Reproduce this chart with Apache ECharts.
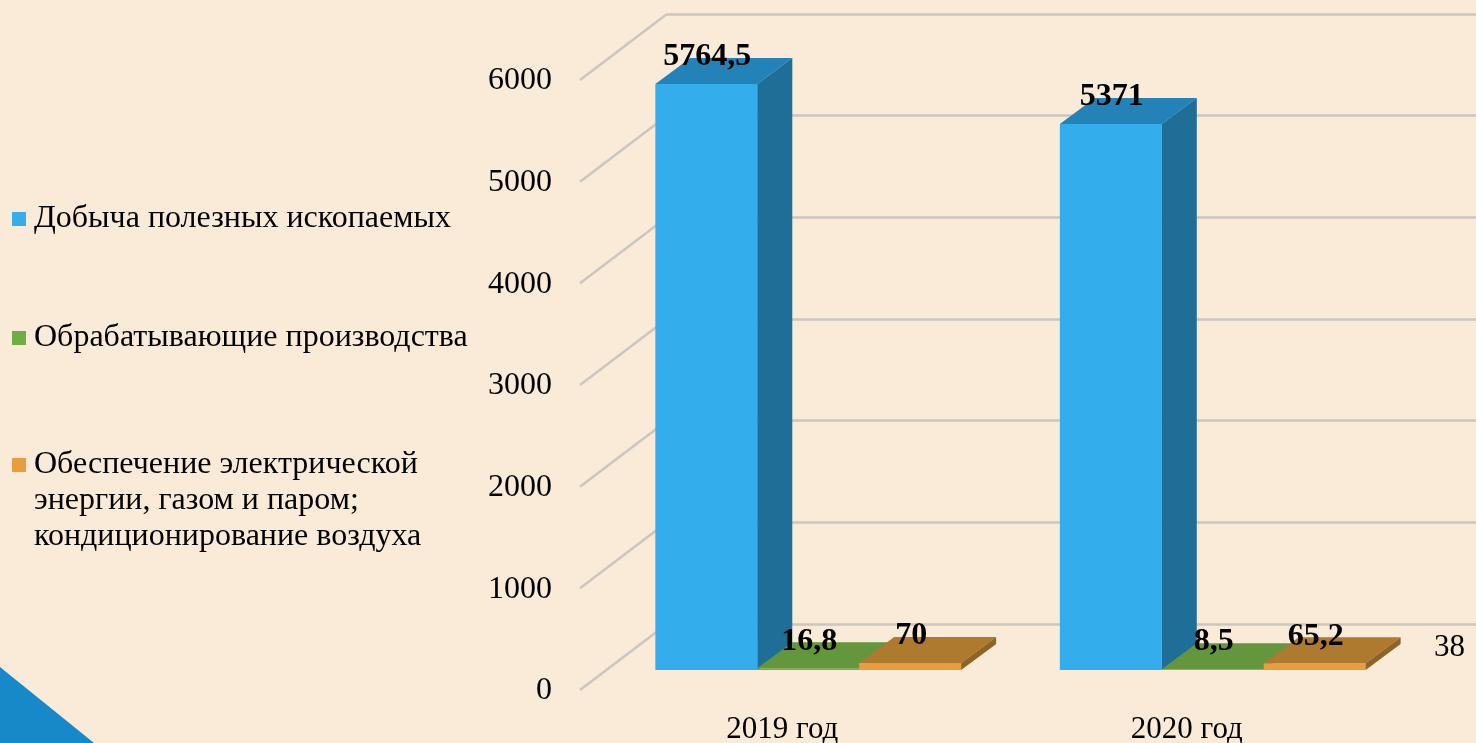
<!DOCTYPE html>
<html>
<head>
<meta charset="utf-8">
<title>Отгружено товаров по видам деятельности</title>
<script src="https://cdn.jsdelivr.net/npm/echarts@6/dist/echarts.min.js"></script>
<style>
  html, body { margin: 0; padding: 0; background: #faebd9; }
  #chart { width: 1476px; height: 743px; }
</style>
</head>
<body>
<div id="chart"></div>
<script>
// данные
var categories = ['2019 год', '2020 год'];
var seriesNames = ['Добыча полезных ископаемых', 'Обрабатывающие производства', 'Обеспечение электрической энергии, газом и паром; кондиционирование воздуха'];
var mining = [5764.5, 5371];
var manufacturing = [16.8, 8.5];
var energy = [70, 65.2];
var yTicks = [0, 1000, 2000, 3000, 4000, 5000, 6000];
var pageNumber = '38';

// цвета граней: фронт / верх / бок
var faces = [
  { front: '#33adeb', top: '#2383b8', side: '#1f6e97' },
  { front: '#70ad47', top: '#64973d', side: '#4e7a2f' },
  { front: '#e89e3e', top: '#ad7a2f', side: '#8d6326' }
];
var gridColor = '#cbc6c0';
var serif = '"Liberation Serif", "Times New Roman", serif';

// смещения псевдо-3D
var WALL_DX = -87, WALL_DY = 66;    // задняя стенка -> передний край пола
var PLANE_DX = -61, PLANE_DY = 46;  // задняя стенка -> передние грани столбиков
var DEPTH_DX = 35, DEPTH_DY = -26;  // глубина столбика
var BAR_RATIO = 0.252;

function fmt(v) {
  return String(v).replace('.', ',');
}

function barRenderer(k) {
  return function (params, api) {
    var ci = api.value(0), v = api.value(1);
    var base = api.coord([ci, 0]);
    var top = api.coord([ci, v]);
    var bw = api.size([1, 0])[0] * BAR_RATIO;
    var cx = base[0] + PLANE_DX + (k - 1) * bw;
    var x0 = cx - bw / 2, x1 = cx + bw / 2;
    var yb = base[1] + PLANE_DY, yt = top[1] + PLANE_DY;
    var f = faces[k];
    return {
      type: 'group',
      children: [
        { type: 'rect', shape: { x: x0, y: yt, width: bw, height: yb - yt }, style: { fill: f.front } },
        { type: 'polygon', shape: { points: [[x0, yt], [x1, yt], [x1 + DEPTH_DX, yt + DEPTH_DY], [x0 + DEPTH_DX, yt + DEPTH_DY]] }, style: { fill: f.top } },
        { type: 'polygon', shape: { points: [[x1, yt], [x1 + DEPTH_DX, yt + DEPTH_DY], [x1 + DEPTH_DX, yb + DEPTH_DY], [x1, yb]] }, style: { fill: f.side } },
        { type: 'text', x: cx + 1, y: yt - 27, style: { text: fmt(v), fill: '#000', font: 'bold 32px ' + serif, align: 'center', verticalAlign: 'middle' } }
      ]
    };
  };
}

// диагонали сетки и подписи оси значений
function tickRenderer(params, api) {
  var v = api.value(1);
  var p = api.coord([0, v]);
  var x = params.coordSys.x;
  return {
    type: 'group',
    children: [
      { type: 'line', shape: { x1: x, y1: p[1], x2: x + WALL_DX, y2: p[1] + WALL_DY }, style: { stroke: gridColor, lineWidth: 2.5 } },
      { type: 'text', x: x + WALL_DX - 28, y: p[1] + WALL_DY + 1, style: { text: String(v), fill: '#000', font: '32px ' + serif, align: 'right', verticalAlign: 'middle' } }
    ]
  };
}

// подписи категорий на переднем крае
function categoryRenderer(params, api) {
  var ci = api.value(0);
  var p = api.coord([ci, 0]);
  return {
    type: 'text',
    x: p[0] + WALL_DX,
    y: p[1] + WALL_DY + 40,
    style: { text: categories[ci], fill: '#000', font: '31px ' + serif, align: 'center', verticalAlign: 'middle' }
  };
}

var chart = echarts.init(document.getElementById('chart'));

var valueSets = [mining, manufacturing, energy];
var barSeries = valueSets.map(function (vals, k) {
  return {
    name: seriesNames[k],
    type: 'custom',
    renderItem: barRenderer(k),
    itemStyle: { color: faces[k].front },
    data: vals.map(function (v, i) { return [i, v]; }),
    z: 3
  };
});

// одна легенда на каждый ряд, чтобы поставить их как на слайде
var legendTops = [201, 320, 375];
var legendText = {
  fontFamily: serif, fontSize: 32, color: '#000', lineHeight: 36, padding: [0, 0, 0, 3]
};
var legends = seriesNames.map(function (name, k) {
  return {
    orient: 'vertical',
    left: 12,
    top: legendTops[k],
    padding: 0,
    itemWidth: 14,
    itemHeight: 14,
    icon: 'rect',
    selectedMode: false,
    textStyle: legendText,
    data: [name],
    formatter: function (n) {
      if (k === 2) {
        // две пустые строки сверху — значок встаёт на уровень первой строки
        return ' \n \nОбеспечение электрической\nэнергии, газом и паром;\nкондиционирование воздуха';
      }
      return n;
    }
  };
});

var option = {
  backgroundColor: '#faebd9',
  animation: false,
  grid: { left: 667, top: 14, right: -9, bottom: 119 },
  xAxis: {
    type: 'category',
    data: categories,
    axisLine: { show: false },
    axisTick: { show: false },
    axisLabel: { show: false }
  },
  yAxis: {
    type: 'value',
    min: 0,
    max: 6000,
    interval: 1000,
    axisLabel: { show: false },
    splitLine: { lineStyle: { color: gridColor, width: 2.5 } }
  },
  legend: legends,
  graphic: [
    { type: 'polygon', shape: { points: [[0, 667], [94, 743], [0, 743]] }, style: { fill: '#1788c8' } },
    { type: 'text', left: 1434, top: 632, style: { text: pageNumber, fill: '#000', font: '31px ' + serif } }
  ],
  series: [
    {
      name: 'ticks',
      type: 'custom',
      renderItem: tickRenderer,
      data: yTicks.map(function (v) { return [0, v]; }),
      silent: true,
      z: 1
    },
    {
      name: 'categories',
      type: 'custom',
      renderItem: categoryRenderer,
      data: categories.map(function (c, i) { return [i, 0]; }),
      silent: true,
      z: 1
    }
  ].concat(barSeries)
};

chart.setOption(option);

window.addEventListener('resize', function () {
  chart.resize();
});
</script>
</body>
</html>
